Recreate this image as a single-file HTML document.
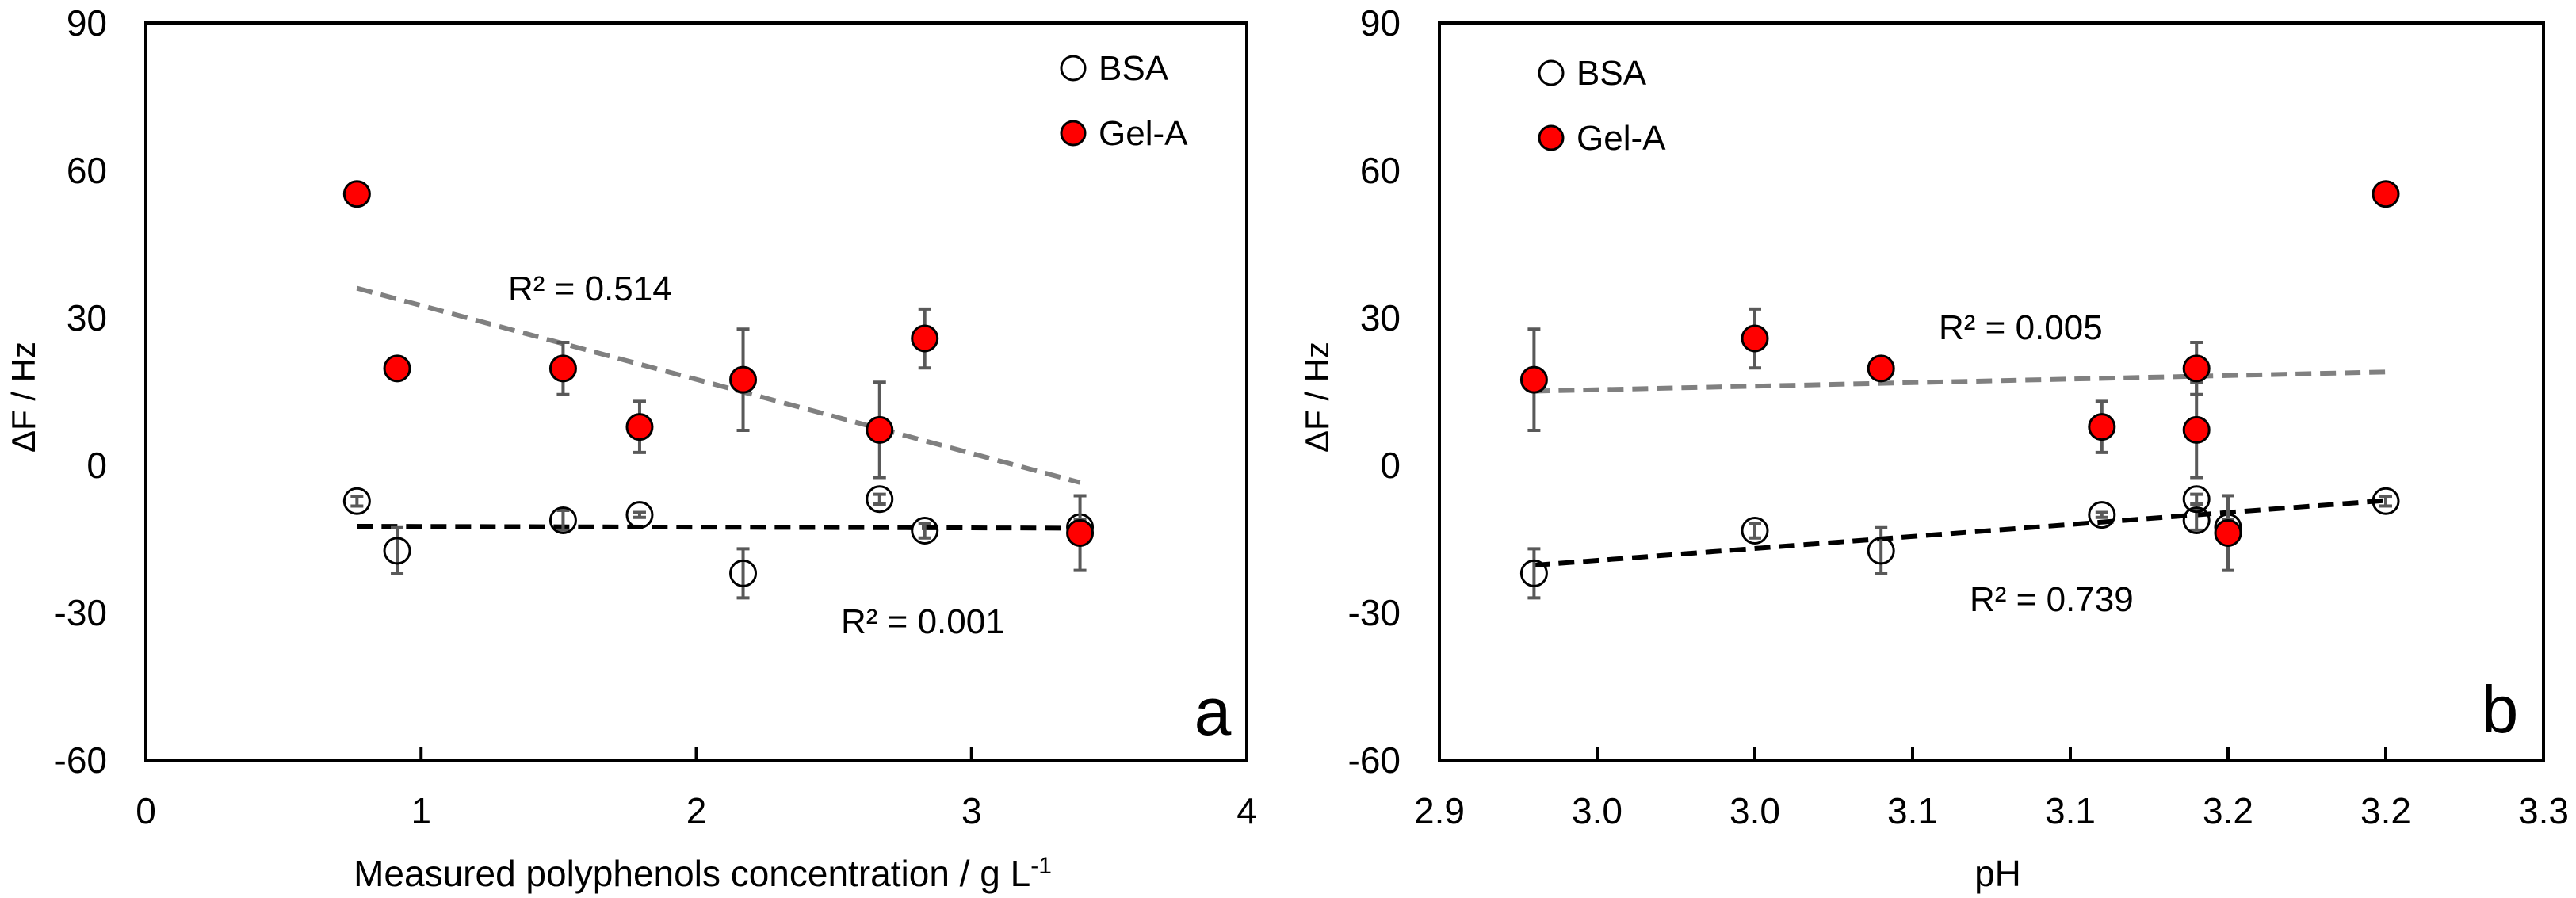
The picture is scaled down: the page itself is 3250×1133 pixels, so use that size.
<!DOCTYPE html>
<html><head><meta charset="utf-8"><style>
html,body{margin:0;padding:0;background:#fff;}
svg{display:block;}
text{font-family:"Liberation Sans Narrow","Liberation Sans",sans-serif;fill:#000;}
</style></head><body>
<svg id="chart" width="3250" height="1133" viewBox="0 0 3250 1133" xmlns="http://www.w3.org/2000/svg">
<rect width="3250" height="1133" fill="#fff"/>
</svg>
<script>
const conc = [0.767, 0.913, 1.516, 1.794, 2.17, 2.666, 2.83, 3.394];
const pH = [3.20, 3.04, 3.14, 3.11, 2.93, 3.14, 3.00, 3.15];
const gelA = [55.2, 19.7, 19.7, 7.8, 17.4, 7.2, 25.8, -13.8];
const gelAErr = [0, 0, 5.3, 5.2, 10.3, 9.7, 6.0, 7.6];
const bsa = [-7.3, -17.4, -11.2, -10.1, -22.0, -6.9, -13.3, -12.6];
const bsaErr = [1, 4.7, 2, 0.5, 5, 1, 1.5, 1.5];
const yTicks = [90, 60, 30, 0, -30, -60];
const xTicksA = [0, 1, 2, 3, 4];
const xTickLabelsA = ["0", "1", "2", "3", "4"];
const xTicksB = [2.90, 2.95, 3.00, 3.05, 3.10, 3.15, 3.20, 3.25];
const xTickLabelsB = ["2.9", "3.0", "3.0", "3.1", "3.1", "3.2", "3.2", "3.3"];
const r2A = ["R² = 0.514", "R² = 0.001"];
const r2B = ["R² = 0.005", "R² = 0.739"];

const NS = "http://www.w3.org/2000/svg";
const svg = document.getElementById('chart');
function mk(tag, attrs, parent, txt){
  const e = document.createElementNS(NS, tag);
  for (const k in attrs) e.setAttribute(k, attrs[k]);
  if (txt !== undefined) e.textContent = txt;
  (parent || svg).appendChild(e);
  return e;
}
function fit(xs, ys){
  const n = xs.length; let mx=0,my=0;
  for(let i=0;i<n;i++){mx+=xs[i];my+=ys[i];} mx/=n; my/=n;
  let sxy=0,sxx=0;
  for(let i=0;i<n;i++){sxy+=(xs[i]-mx)*(ys[i]-my);sxx+=(xs[i]-mx)**2;}
  const b=sxy/sxx; return {a:my-b*mx,b:b};
}

function panel(cfg){
  const g = mk('g', {});
  
  
  const L=cfg.left, R=cfg.right, T=29, B=959;
  const sx = v => L + (v - cfg.xmin) / (cfg.xmax - cfg.xmin) * (R - L);
  const sy = v => T + (90 - v) / 150 * (B - T);
  const frame = mk('rect', {x:L, y:T, width:R-L, height:B-T, fill:'none', stroke:'#000', 'stroke-width':4}, g);
  
  
  yTicks.forEach(v => {
    const t = mk('text', {x:L-49, y:sy(v)+16, 'font-size':46, 'text-anchor':'end'}, g, String(v));
    
    
  });
  cfg.xticks.forEach((v, i) => {
    const x = sx(v);
    if (i > 0 && i < cfg.xticks.length - 1) {
      const tk = mk('line', {x1:x, x2:x, y1:B, y2:B-16, stroke:'#000', 'stroke-width':4}, g);
      
      
    }
    const t = mk('text', {x:x, y:1039, 'font-size':46, 'text-anchor':'middle'}, g, cfg.xlabels[i]);
    
    
  });
  const yt = mk('text', {x:0, y:0, 'font-size':42, 'text-anchor':'middle', transform:`translate(${L-140},501) rotate(-90)`, style:'font-family:"Liberation Sans",sans-serif'}, g, 'ΔF / Hz');
  
  
  const xt = mk('text', {x:(L+R)/2+8, y:1118, 'font-size':46, 'text-anchor':'middle'}, g);
  
  
  xt.textContent = cfg.xtitle;
  if (cfg.sup) mk('tspan', {dy:-16, 'font-size':30}, xt, '-1');
  const xs = cfg.xs;
  const xmn = Math.min(...xs), xmx = Math.max(...xs);
  const fg = fit(xs, gelA), fb = fit(xs, bsa);
  const tg = mk('line', {x1:sx(xmn), y1:sy(fg.a+fg.b*xmn), x2:sx(xmx), y2:sy(fg.a+fg.b*xmx), stroke:'#808080', 'stroke-width':6, 'stroke-dasharray':'20 11'}, g);
  
  
  const tb = mk('line', {x1:sx(xmn), y1:sy(fb.a+fb.b*xmn), x2:sx(xmx), y2:sy(fb.a+fb.b*xmx), stroke:'#000', 'stroke-width':6, 'stroke-dasharray':'20 11'}, g);
  
  
  function err(x, y, e){
    if (e <= 0) return;
    const eg = mk('g', {stroke:'#595959', 'stroke-width':4}, g);
    
    
    mk('line', {x1:sx(x), x2:sx(x), y1:sy(y+e), y2:sy(y-e)}, eg);
    mk('line', {x1:sx(x)-8, x2:sx(x)+8, y1:sy(y+e), y2:sy(y+e)}, eg);
    mk('line', {x1:sx(x)-8, x2:sx(x)+8, y1:sy(y-e), y2:sy(y-e)}, eg);
  }
  xs.forEach((x, i) => err(x, bsa[i], bsaErr[i]));
  xs.forEach((x, i) => {
    const c = mk('circle', {cx:sx(x), cy:sy(bsa[i]), r:16, fill:'none', stroke:'#000', 'stroke-width':3}, g);
    
    
  });
  xs.forEach((x, i) => err(x, gelA[i], gelAErr[i]));
  xs.forEach((x, i) => {
    const c = mk('circle', {cx:sx(x), cy:sy(gelA[i]), r:16, fill:'#ff0000', stroke:'#000', 'stroke-width':3}, g);
    
    
  });
  const r1 = mk('text', {x:cfg.r2pos[0][0], y:cfg.r2pos[0][1], 'font-size':44}, g, cfg.r2[0]);
  
  
  const r2 = mk('text', {x:cfg.r2pos[1][0], y:cfg.r2pos[1][1], 'font-size':44}, g, cfg.r2[1]);
  
  
  const lg = mk('g', {}, g);
  
  
  const [lx, ly] = cfg.legend;
  const e1 = mk('g', {}, lg);
  
  
  mk('circle', {cx:lx, cy:ly, r:15, fill:'none', stroke:'#000', 'stroke-width':3}, e1);
  mk('text', {x:lx+32, y:ly+15, 'font-size':44}, e1, 'BSA');
  const e2 = mk('g', {}, lg);
  
  
  mk('circle', {cx:lx, cy:ly+82, r:15, fill:'#ff0000', stroke:'#000', 'stroke-width':3}, e2);
  mk('text', {x:lx+32, y:ly+97, 'font-size':44}, e2, 'Gel-A');
  const pl = mk('text', {x:cfg.letter[0], y:cfg.letter[1], 'font-size':84, 'text-anchor':'middle'}, g, cfg.letterText);
  
  
}

panel({name:'panel-a', left:184, right:1573, xmin:0, xmax:4, xticks:xTicksA, xlabels:xTickLabelsA,
  xs:conc, xtitle:'Measured polyphenols concentration / g L', sup:true,
  r2:r2A, r2pos:[[641,379],[1061,799]], legend:[1354,86], letter:[1530,927], letterText:'a'});
panel({name:'panel-b', left:1816, right:3209, xmin:2.90, xmax:3.25, xticks:xTicksB, xlabels:xTickLabelsB,
  xs:pH, xtitle:'pH', sup:false,
  r2:r2B, r2pos:[[2446,428],[2485,771]], legend:[1957,92], letter:[3154,924], letterText:'b'});
</script>
</body></html>
